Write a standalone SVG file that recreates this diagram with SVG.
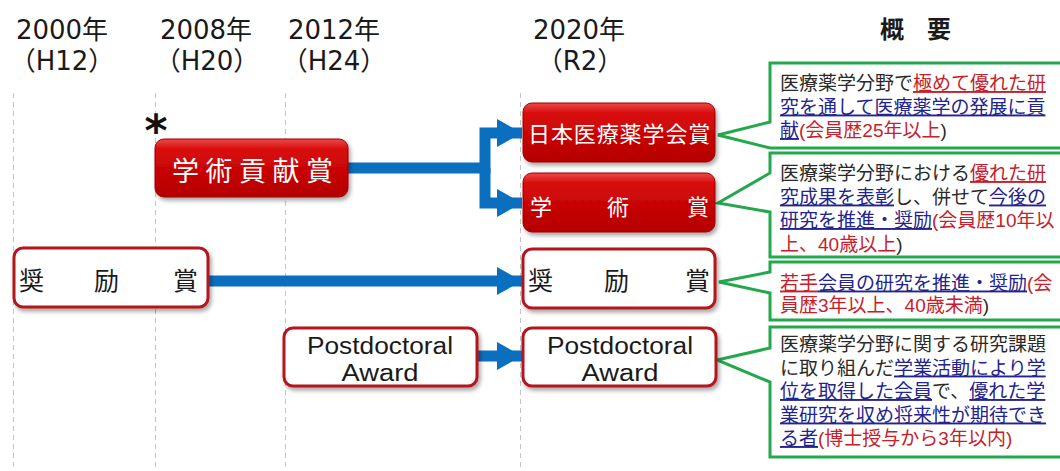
<svg xmlns="http://www.w3.org/2000/svg" width="1060" height="471" viewBox="0 0 1060 471">
<style>
.hdr{font-family:'DejaVu Sans','Noto Sans CJK JP',sans-serif;font-size:26px;fill:#1a1a1a}
.jp{font-family:'Noto Sans CJK JP',sans-serif}
.wt{fill:#ffffff}
.bk{fill:#1a1a1a}
.grid{stroke:#c4c4c4;stroke-width:1;stroke-dasharray:5 4;fill:none}
.redbox{fill:url(#redg);stroke:#9e0000;stroke-width:1}
.whitebox{fill:#ffffff;stroke:#b3141c;stroke-width:3}
.arrow{stroke:#0b6fc0;stroke-width:11;fill:none;stroke-linejoin:miter}
.call{fill:#ffffff;stroke:#23a84c;stroke-width:3;stroke-linejoin:miter}
.desc{font-family:'Liberation Sans','Noto Sans CJK JP',sans-serif;font-size:19px;fill:#2a2a2a}
.r{fill:#c8202a}
.b{fill:#24248f}
.u{text-decoration:underline}
.pd{font-family:'Liberation Sans','Noto Sans',sans-serif;font-size:23px;fill:#1a1a1a}
</style>
<defs>
<linearGradient id="redg" x1="0" y1="0" x2="0" y2="1">
<stop offset="0" stop-color="#ec4a4a"/>
<stop offset="0.18" stop-color="#d80a0a"/>
<stop offset="1" stop-color="#b40000"/>
</linearGradient>
<filter id="sh" x="-10%" y="-15%" width="130%" height="150%">
<feDropShadow dx="2" dy="3" stdDeviation="2" flood-color="#000" flood-opacity="0.35"/>
</filter>
<marker id="ah" markerUnits="userSpaceOnUse" markerWidth="26" markerHeight="30" refX="25" refY="14" orient="auto">
<path d="M0,0 L25,14 L0,28 Z" fill="#0b6fc0"/>
</marker>
</defs>
<rect width="1060" height="471" fill="#ffffff"/>

<g id="header">
<text class="hdr" text-anchor="middle"><tspan x="62" y="39">2000年</tspan><tspan x="62" y="69.5">（H12）</tspan></text>
<text class="hdr" text-anchor="middle"><tspan x="206" y="39">2008年</tspan><tspan x="207" y="69.5">（H20）</tspan></text>
<text class="hdr" text-anchor="middle"><tspan x="334" y="39">2012年</tspan><tspan x="334" y="69.5">（H24）</tspan></text>
<text class="hdr" text-anchor="middle"><tspan x="579" y="39">2020年</tspan><tspan x="580" y="69.5">（R2）</tspan></text>
<text class="jp" x="880" y="38" font-size="24" font-weight="bold" fill="#1a1a1a">概<tspan x="927">要</tspan></text>
</g>

<g id="gridlines">
<line class="grid" x1="13.5" y1="93" x2="13.5" y2="471"/>
<line class="grid" x1="155.5" y1="93" x2="155.5" y2="471"/>
<line class="grid" x1="285.5" y1="93" x2="285.5" y2="471"/>
<line class="grid" x1="520.5" y1="93" x2="520.5" y2="471"/>
</g>

<g id="connectors">
<path class="arrow" d="M348,168 H485 V133 H522" marker-end="url(#ah)"/>
<path class="arrow" d="M485,168 V203 H522" marker-end="url(#ah)"/>
<path class="arrow" d="M208,281 H522" marker-end="url(#ah)"/>
<path class="arrow" d="M477,356 H522" stroke-width="10" marker-end="url(#ah)"/>
<path class="call" d="M718,135 L770,122 L770,63 L1063,63 L1063,148 L770,148 Z"/>
<path class="call" d="M718,203 L770,173 L770,153 L1063,153 L1063,257 L770,257 L770,212 Z"/>
<path class="call" d="M719,282 L770,272 L770,262 L1063,262 L1063,320 L770,320 L770,293 Z"/>
<path class="call" d="M717,360 L770,348 L770,327 L1063,327 L1063,457 L770,457 L770,382 Z"/>
</g>

<g id="asterisk">
<text x="156" y="146" text-anchor="middle" font-family="'DejaVu Sans',sans-serif" font-weight="bold" font-size="44" fill="#111">*</text>
</g>

<g id="node-gakujutsu-kouken">
<rect class="redbox" x="155" y="139" width="193" height="58" rx="9" filter="url(#sh)"/>
<text class="jp wt" x="172" y="181" font-size="27" letter-spacing="6.5">学術貢献賞</text>
</g>

<g id="node-shourei-2000">
<rect class="whitebox" x="14" y="248" width="194" height="59" rx="9" filter="url(#sh)"/>
<text class="jp bk" x="19 94 173" y="290" font-size="25">奨励賞</text>
</g>

<g id="node-postdoc-2012">
<rect class="whitebox" x="284" y="328" width="193" height="58" rx="9" filter="url(#sh)"/>
<text class="pd" text-anchor="middle"><tspan x="380" y="354" textLength="146" lengthAdjust="spacingAndGlyphs">Postdoctoral</tspan><tspan x="380" y="381" textLength="77" lengthAdjust="spacingAndGlyphs">Award</tspan></text>
</g>

<g id="node-nihon-iryou">
<rect class="redbox" x="523" y="103" width="192" height="59" rx="9" filter="url(#sh)"/>
<text class="jp wt" x="528" y="142" font-size="22" letter-spacing="0.9">日本医療薬学会賞</text>
</g>

<g id="node-gakujutsu">
<rect class="redbox" x="523" y="173" width="192" height="59" rx="9" filter="url(#sh)"/>
<text class="jp wt" x="530 607 687" y="215" font-size="22">学術賞</text>
</g>

<g id="node-shourei-2020">
<rect class="whitebox" x="523" y="249" width="192" height="59" rx="9" filter="url(#sh)"/>
<text class="jp bk" x="528 604 685" y="290" font-size="25">奨励賞</text>
</g>

<g id="node-postdoc-2020">
<rect class="whitebox" x="523" y="328" width="193" height="58" rx="9" filter="url(#sh)"/>
<text class="pd" text-anchor="middle"><tspan x="620" y="354" textLength="146" lengthAdjust="spacingAndGlyphs">Postdoctoral</tspan><tspan x="620" y="381" textLength="77" lengthAdjust="spacingAndGlyphs">Award</tspan></text>
</g>

<g id="desc-nihon-iryou">
<text class="desc"><tspan x="780" y="90">医療薬学分野で<tspan class="r u">極めて優れた研</tspan></tspan><tspan x="780" y="113.5"><tspan class="b u">究を通して医療薬学の発展に貢</tspan></tspan><tspan x="780" y="137"><tspan class="b u">献</tspan><tspan class="r">(会員歴25年以上</tspan>)</tspan></text>
</g>

<g id="desc-gakujutsu">
<text class="desc"><tspan x="780" y="180">医療薬学分野における<tspan class="r u">優れた研</tspan></tspan><tspan x="780" y="203.5"><tspan class="b u">究成果を表彰</tspan>し、併せて<tspan class="b u">今後の</tspan></tspan><tspan x="780" y="227"><tspan class="b u">研究を推進・奨励</tspan><tspan class="r">(会員歴10年以</tspan></tspan><tspan x="780" y="250.5"><tspan class="r">上、40歳以上</tspan>)</tspan></text>
</g>

<g id="desc-shourei">
<text class="desc"><tspan x="780" y="289.5"><tspan class="r u">若手</tspan><tspan class="b u">会員の研究を推進・奨励</tspan><tspan class="r">(会</tspan></tspan><tspan x="780" y="311.5"><tspan class="r">員歴3年以上、40歳未満</tspan>)</tspan></text>
</g>

<g id="desc-postdoc">
<text class="desc"><tspan x="780" y="351">医療薬学分野に関する研究課題</tspan><tspan x="780" y="374.5">に取り組んだ<tspan class="b u">学業活動により学</tspan></tspan><tspan x="780" y="398"><tspan class="b u">位を取得した会員</tspan>で、<tspan class="b u">優れた学</tspan></tspan><tspan x="780" y="421.5"><tspan class="b u">業研究を収め将来性が期待でき</tspan></tspan><tspan x="780" y="445"><tspan class="b u">る者</tspan><tspan class="r">(博士授与から3年以内)</tspan></tspan></text>
</g>
</svg>
